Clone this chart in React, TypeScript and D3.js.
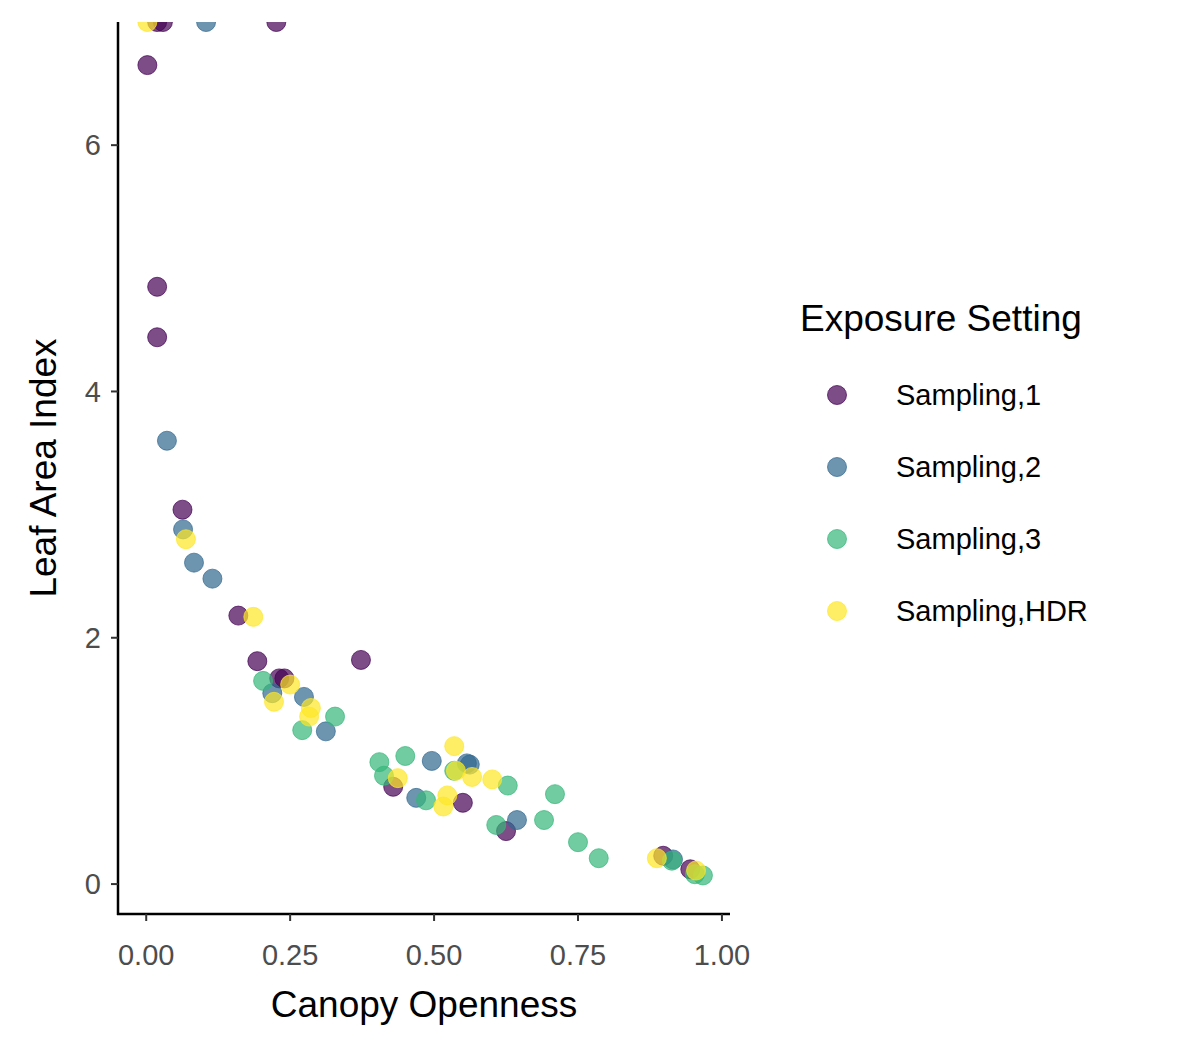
import React from 'react';
import * as d3 from 'd3';

const groups = ['Sampling,1', 'Sampling,2', 'Sampling,3', 'Sampling,HDR'];
const colors = ['#440154', '#31688E', '#35B779', '#FDE725'];

// [canopy openness, leaf area index]
const s1: [number, number][] = [
  [0.019, 7], [0.029, 7], [0.226, 7], [0.002, 6.65], [0.019, 4.85], [0.019, 4.44],
  [0.063, 3.04], [0.160, 2.18], [0.193, 1.81], [0.231, 1.67], [0.240, 1.67],
  [0.373, 1.82], [0.429, 0.79], [0.550, 0.66], [0.625, 0.43], [0.898, 0.23], [0.945, 0.12],
];
const s2: [number, number][] = [
  [0.104, 7], [0.036, 3.60], [0.064, 2.88], [0.083, 2.61], [0.115, 2.48], [0.219, 1.55],
  [0.274, 1.52], [0.312, 1.24], [0.496, 1.00], [0.469, 0.70], [0.557, 0.98], [0.562, 0.97],
  [0.644, 0.52], [0.915, 0.20],
];
const s3: [number, number][] = [
  [0.203, 1.65], [0.271, 1.25], [0.328, 1.36], [0.405, 0.99], [0.413, 0.88], [0.450, 1.04],
  [0.486, 0.68], [0.535, 0.92], [0.608, 0.48], [0.628, 0.80], [0.691, 0.52], [0.710, 0.73],
  [0.750, 0.34], [0.786, 0.21], [0.913, 0.19], [0.953, 0.08], [0.967, 0.07],
];
const s4: [number, number][] = [
  [0.002, 7], [0.069, 2.80], [0.186, 2.17], [0.222, 1.48], [0.250, 1.62], [0.286, 1.43],
  [0.283, 1.36], [0.437, 0.86], [0.535, 1.12], [0.538, 0.92], [0.516, 0.63], [0.523, 0.72],
  [0.566, 0.87], [0.601, 0.85], [0.887, 0.21], [0.955, 0.11],
];
const series = [s1, s2, s3, s4];
const xTicks = [0, 0.25, 0.5, 0.75, 1];
const yTicks = [0, 2, 4, 6];

export default function App() {
  const x = d3.scaleLinear().domain([-0.049, 1.014]).range([118, 730]);
  const y = d3.scaleLinear().domain([-0.243, 7]).range([914, 22]);
  const font = 'Arial, "Liberation Sans", sans-serif';
  return (
    <svg width={1200} height={1050}
      style={{ position: 'absolute', left: 0, top: 0, display: 'block', fontFamily: font }}>
      <defs>
        <clipPath id="panel">
          <rect x={118} y={22} width={612} height={892} />
        </clipPath>
      </defs>
      <g clipPath="url(#panel)">
        {series.map((pts, gi) =>
          pts.map((p, i) => (
            <circle key={`${gi}-${i}`} cx={x(p[0])} cy={y(p[1])} r={9.5}
              fill={colors[gi]} fillOpacity={0.7} stroke={colors[gi]} strokeOpacity={0.7} strokeWidth={1} />
          )))}
      </g>
      <line x1={118} x2={118} y1={22} y2={915} stroke="#000" strokeWidth={2.5} />
      <line x1={117} x2={730} y1={914} y2={914} stroke="#000" strokeWidth={2.5} />
      {yTicks.map(t => (
        <g key={t}>
          <line x1={111} x2={118} y1={y(t)} y2={y(t)} stroke="#333" strokeWidth={2} />
          <text x={101} y={y(t)} dy="0.35em" textAnchor="end" fontSize={29} fill="#4D4D4D">{t}</text>
        </g>
      ))}
      {xTicks.map(t => (
        <g key={t}>
          <line x1={x(t)} x2={x(t)} y1={914} y2={921} stroke="#333" strokeWidth={2} />
          <text x={x(t)} y={965} textAnchor="middle" fontSize={29} fill="#4D4D4D">{t.toFixed(2)}</text>
        </g>
      ))}
      <text x={424} y={1017} textAnchor="middle" fontSize={37}>Canopy Openness</text>
      <text transform={`translate(56,468) rotate(-90)`} textAnchor="middle" fontSize={37}>Leaf Area Index</text>
      <text x={800} y={331} fontSize={37}>Exposure Setting</text>
      {groups.map((g, i) => (
        <g key={g}>
          <circle cx={837} cy={395 + i * 72} r={9.5} fill={colors[i]} fillOpacity={0.7} stroke={colors[i]} strokeOpacity={0.7} />
          <text x={896} y={395 + i * 72} dy="0.35em" fontSize={29}>{g}</text>
        </g>
      ))}
    </svg>
  );
}
